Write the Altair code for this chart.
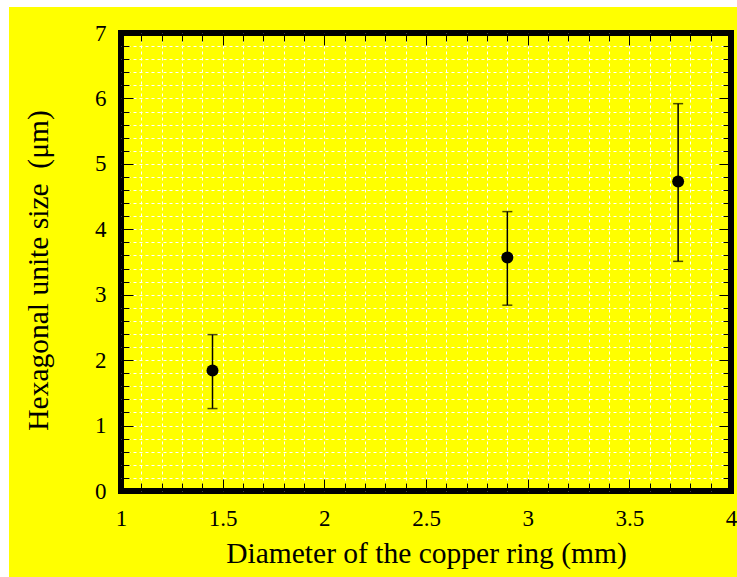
import altair as alt
import pandas as pd

# ---- data ----
diameter = [1.45, 2.90, 3.74]
hex_size = [1.84, 3.57, 4.73]
err_low = [1.26, 2.84, 3.51]
err_high = [2.39, 4.27, 5.92]

x_labels = [1, 1.5, 2, 2.5, 3, 3.5, 4]
y_labels = [0, 1, 2, 3, 4, 5, 6, 7]
x_major = [1.5, 2, 2.5, 3, 3.5]
y_major = [1, 2, 3, 4, 5, 6]
x_minor = [round(1 + 0.1 * i, 1) for i in range(1, 30)]
y_minor = [round(0.2 * i, 1) for i in range(1, 35)]

df = pd.DataFrame({"d": diameter, "s": hex_size, "lo": err_low, "hi": err_high})

FONT = "Liberation Serif"
YEL = "#FFFF00"
xs = alt.Scale(domain=[1, 4], nice=False, zero=False)
ys = alt.Scale(domain=[0, 7], nice=False, zero=False)

W, H = 610, 458
PL, PT, PR, PB = 121, 33, 6, 86

base = alt.Chart(df)


def tick_axis(orient, values, size):
    return alt.Axis(orient=orient, values=values, labels=False, domain=False,
                    grid=False, ticks=True, tickSize=size, offset=-size,
                    tickColor="black", tickWidth=1)


def axis_layer(xa, ya):
    return base.mark_point(opacity=0).encode(
        x=alt.X("d:Q", scale=xs, axis=xa, title=None),
        y=alt.Y("s:Q", scale=ys, axis=ya, title=None),
    )


grid_layer = axis_layer(
    alt.Axis(orient="bottom", values=x_minor, grid=True, gridColor="white",
             gridDash=[3, 3], gridWidth=1, labels=False, ticks=False, domain=False),
    alt.Axis(orient="left", values=y_minor, grid=True, gridColor="white",
             gridDash=[3, 3], gridWidth=1, labels=False, ticks=False, domain=False),
)

minor_bl = axis_layer(tick_axis("bottom", x_minor, 8), tick_axis("left", y_minor, 8))
major_bl = axis_layer(tick_axis("bottom", x_major, 12), tick_axis("left", y_major, 12))
minor_tr = axis_layer(tick_axis("top", x_minor, 8), tick_axis("right", y_minor, 8))
major_tr = axis_layer(tick_axis("top", x_major, 12), tick_axis("right", y_major, 12))

errbars = base.mark_rule(color="black", strokeWidth=1.5).encode(
    x=alt.X("d:Q", scale=xs, axis=None),
    y=alt.Y("lo:Q", scale=ys, axis=None),
    y2="hi:Q",
)
cap_lo = base.mark_tick(orient="horizontal", size=10, thickness=1.5, color="black").encode(
    x=alt.X("d:Q", scale=xs, axis=None),
    y=alt.Y("lo:Q", scale=ys, axis=None),
)
cap_hi = base.mark_tick(orient="horizontal", size=10, thickness=1.5, color="black").encode(
    x=alt.X("d:Q", scale=xs, axis=None),
    y=alt.Y("hi:Q", scale=ys, axis=None),
)

points = base.mark_point(shape="circle", filled=True, size=144, color="black",
                         opacity=1).encode(
    x=alt.X("d:Q", scale=xs, title="Diameter of the copper ring (mm)",
            axis=alt.Axis(orient="bottom", values=x_labels, format="~g",
                          ticks=False, domain=False, grid=False, labelFlush=False,
                          labelFont=FONT, labelFontSize=23, labelColor="black",
                          labelPadding=16, titleFont=FONT, titleFontSize=29.5,
                          titleFontWeight="normal", titleColor="black",
                          titlePadding=9)),
    y=alt.Y("s:Q", scale=ys, title="Hexagonal unite size\u00a0 (\u03bcm)",
            axis=alt.Axis(orient="left", values=y_labels, format="~g",
                          ticks=False, domain=False, grid=False, labelFlush=False,
                          labelFont=FONT, labelFontSize=23, labelColor="black",
                          labelPadding=15, titleFont=FONT, titleFontSize=29.5,
                          titleFontWeight="normal", titleColor="black",
                          titlePadding=41, titleY=237)),
)

one = alt.Chart(pd.DataFrame({"k": [0]}))
strip_left = one.mark_rect(color="white").encode(
    x=alt.value(-PL), x2=alt.value(-PL + 9), y=alt.value(-PT), y2=alt.value(H + PB))
strip_top = one.mark_rect(color="white").encode(
    x=alt.value(-PL), x2=alt.value(W + PR), y=alt.value(-PT), y2=alt.value(-PT + 7))

chart = alt.layer(
    grid_layer, minor_bl, major_bl, minor_tr, major_tr,
    errbars, cap_lo, cap_hi, points, strip_left, strip_top,
).resolve_axis(x="independent", y="independent").properties(
    width=W, height=H,
    autosize=alt.AutoSizeParams(type="none"),
    padding={"left": PL, "top": PT, "right": PR, "bottom": PB},
    background=YEL,
).configure_view(stroke="black", strokeWidth=6, fill=YEL)

chart.save("out.html", embed_options={"renderer": "svg", "actions": False})
